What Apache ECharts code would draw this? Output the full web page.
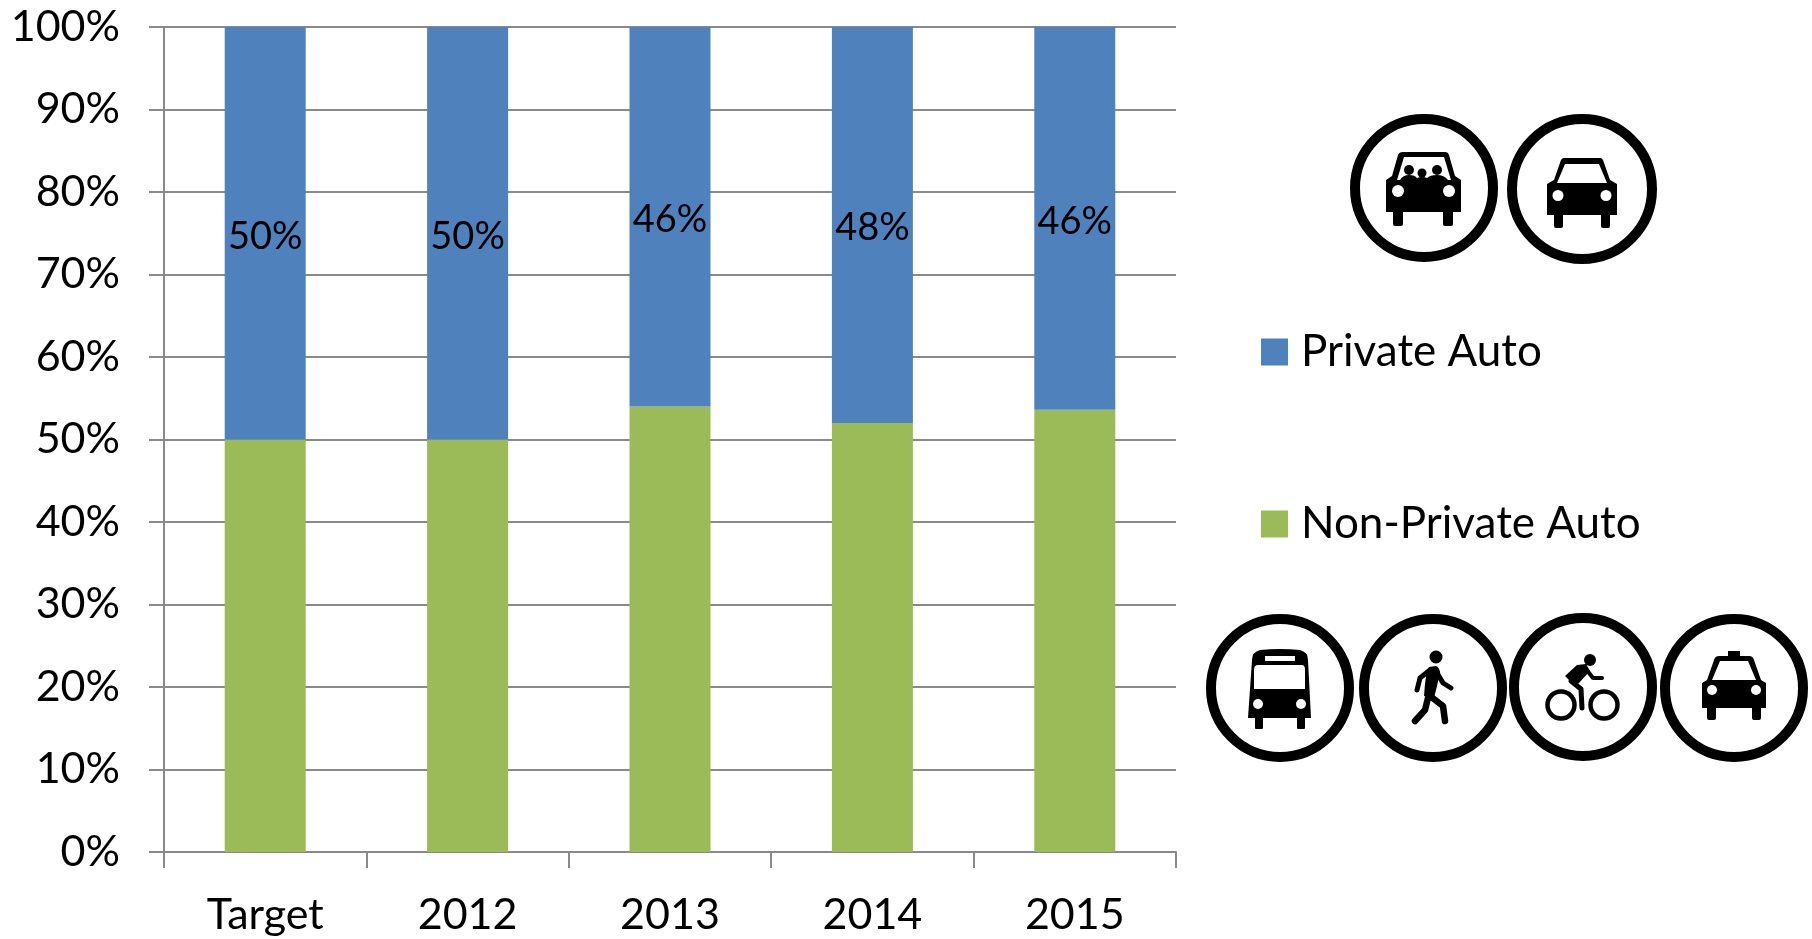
<!DOCTYPE html>
<html>
<head>
<meta charset="utf-8">
<title>Mode split</title>
<style>
	html, body { margin: 0; padding: 0; background: #fff; }
	#main { width: 1812px; height: 939px; }
</style>
<script src="https://cdn.jsdelivr.net/npm/echarts@6/dist/echarts.min.js"></script>
</head>
<body>
<div id="main"></div>
<script>
var categories = ['Target', '2012', '2013', '2014', '2015'];
var privateAuto = [50, 50, 46, 48, 46.4];
var nonPrivateAuto = [50, 50, 54, 52, 53.6];
var yTicks = [0, 10, 20, 30, 40, 50, 60, 70, 80, 90, 100];

var fontName = 'Lato, Carlito, sans-serif';
var axisGrey = '#8a8a8a';
var blue = '#4f81bd';
var green = '#9bbb59';

/*********** icon helpers ***************/
// graphic has no plain path type, so each outline gets registered as a shape
var shapeCount = 0;
function pathShape(d) {
	var name = 'iconPath' + (shapeCount++);
	echarts.graphic.registerShape(name, echarts.graphic.extendPath(d, {}));
	return name;
}
function fillPath(d, color) {
	return { type: pathShape(d), style: { fill: color || '#000' } };
}
function line(d, w) {
	return { type: pathShape(d), style: { fill: 'none', stroke: '#000', lineWidth: w, lineCap: 'round', lineJoin: 'round' } };
}
function dot(x, y, r, color) {
	return { type: 'circle', shape: { cx: x, cy: y, r: r }, style: { fill: color || '#000' } };
}
function ring(x, y, r, w) {
	return { type: 'circle', shape: { cx: x, cy: y, r: r }, style: { fill: 'none', stroke: '#000', lineWidth: w } };
}
// every icon is a black ring with a pictogram drawn around 0,0
function icon(cx, cy, r, parts) {
	return {
		type: 'group',
		x: cx,
		y: cy,
		children: [ring(0, 0, r, 10)].concat(parts)
	};
}

var familyCar = [
	fillPath('M-21,-36 L21,-36 Q24,-36 25,-33 L31,-12 L37,-8 L37,24 L29,24 L29,36 Q29,38 27,38 L21,38 Q19,38 19,36 L19,24 L-21,24 L-21,36 Q-21,38 -23,38 L-29,38 Q-31,38 -31,36 L-31,24 L-38,24 L-38,-8 L-32,-12 L-26,-33 Q-25,-36 -21,-36 Z'),
	fillPath('M-20,-31 L20,-31 L27,-8 L-27,-8 Z', '#fff'),
	dot(-15, -18, 5), dot(-2, -15, 4.5), dot(13, -18, 5),
	fillPath('M-24,-8 Q-21,-13 -15,-13 Q-9,-13 -7,-10 Q-5,-11 -2,-11 Q1,-11 3,-10 Q6,-13 13,-13 Q20,-13 24,-8 Z'),
	dot(-26, 3, 6, '#fff'), dot(25, 3, 6, '#fff')
];

var car = [
	fillPath('M-18,-31 L18,-31 Q20,-31 21,-29 L28,-9 L35,-5 L35,26 L28,26 L28,37 Q28,39 26,39 L21,39 Q19,39 19,37 L19,26 L-19,26 L-19,37 Q-19,39 -21,39 L-26,39 Q-28,39 -28,37 L-28,26 L-35,26 L-35,-5 L-28,-9 L-21,-29 Q-20,-31 -18,-31 Z'),
	fillPath('M-17,-25 L17,-25 L25,-6 L-25,-6 Z', '#fff'),
	dot(-24, 6.5, 5.5, '#fff'), dot(24, 6.5, 5.5, '#fff')
];

var bus = [
	fillPath('M-20,-38 Q0,-40 20,-38 Q28,-36 28,-28 L31,30 L25,30 L25,40 Q25,41 24,41 L18,41 Q17,41 17,40 L17,30 L-17,30 L-17,40 Q-17,41 -18,41 L-24,41 Q-25,41 -25,40 L-25,30 L-32,30 L-28,-28 Q-28,-36 -20,-38 Z'),
	fillPath('M-22,-23 L22,-23 Q25,-23 25,-18 L25,1 L-26,1 L-26,-18 Q-26,-23 -22,-23 Z', '#fff'),
	fillPath('M-15,-32 L15,-32 L15,-27 L-15,-27 Z', '#fff'),
	dot(-22, 16, 5, '#fff'), dot(21, 16, 5, '#fff')
];

var walker = [
	dot(3, -31, 6.5),
	fillPath('M-4,-21 L3,-22 Q6,-21 7,-16 L4,-2 L1,10 L-9,8 L-8,-4 L-6,-18 Z'),
	line('M-3,-18 L-13,-10 L-16,2', 5),
	line('M3,-17 L10,-5 L18,0', 5),
	line('M-4,6 L-8,22 L-18,33', 6.5),
	line('M-3,8 L10,18 L12,33', 6.5)
];

var cyclist = [
	dot(7, -27, 6),
	ring(-22, 18, 13.5, 4.5), ring(21, 18, 13.5, 4.5),
	fillPath('M-18,-11 L-6,-22 L3,-23 L7,-16 L-4,-4 L-8,-1 Z'),
	line('M3,-18 L10,-9 L19,-9', 4),
	line('M-12,-6 L-2,2 L-1,21', 5)
];

var taxi = [
	fillPath('M-6,-37 L6,-37 L6,-32 L15,-32 Q19,-32 20,-28 L27,-8 L32,-5 L32,20 L27,20 L27,30 Q27,32 25,32 L20,32 Q18,32 18,30 L18,20 L-18,20 L-18,30 Q-18,32 -20,32 L-25,32 Q-27,32 -27,30 L-27,20 L-32,20 L-32,-5 L-27,-8 L-20,-28 Q-19,-32 -15,-32 L-6,-32 Z'),
	fillPath('M-14,-27 L14,-27 L22,-8 L-22,-8 Z', '#fff'),
	dot(-22, 2, 5, '#fff'), dot(22, 2, 5, '#fff')
];

/*********** chart ***************/
var myChart = echarts.init(document.getElementById('main'));

var option = {
	animation: false,
	backgroundColor: '#fff',
	textStyle: { fontFamily: fontName, color: '#000' },
	grid: { left: 164, top: 27, width: 1012, height: 825, containLabel: false },
	legend: {
		orient: 'vertical',
		left: 1261,
		top: 330,
		padding: 0,
		icon: 'rect',
		itemWidth: 27,
		itemHeight: 27,
		itemGap: 128,
		data: ['Private Auto', 'Non-Private Auto'],
		textStyle: { fontFamily: fontName, fontSize: 44, color: '#000', padding: [0, 0, 0, 8] }
	},
	xAxis: {
		type: 'category',
		data: categories,
		axisLine: { lineStyle: { color: axisGrey, width: 2 } },
		axisTick: { show: true, length: 16, alignWithLabel: false, lineStyle: { color: axisGrey, width: 2 } },
		axisLabel: { color: '#000', fontFamily: fontName, fontSize: 43, margin: 42 }
	},
	yAxis: {
		type: 'value',
		min: 0,
		max: 100,
		interval: 10,
		axisLine: { show: true, lineStyle: { color: axisGrey, width: 2 } },
		axisTick: { show: true, length: 15, lineStyle: { color: axisGrey, width: 2 } },
		axisLabel: {
			color: '#000',
			fontFamily: fontName,
			fontSize: 43,
			margin: 44,
			formatter: function (v) { return yTicks.indexOf(v) >= 0 ? v + '%' : ''; }
		},
		splitLine: { show: true, lineStyle: { color: axisGrey, width: 2 } }
	},
	series: [
		{
			name: 'Non-Private Auto',
			type: 'bar',
			stack: 'mode',
			barWidth: 81,
			itemStyle: { color: green },
			data: nonPrivateAuto
		},
		{
			name: 'Private Auto',
			type: 'bar',
			stack: 'mode',
			barWidth: 81,
			itemStyle: { color: blue },
			label: {
				show: true,
				position: 'inside',
				offset: [0, 3],
				color: '#000',
				fontFamily: fontName,
				fontSize: 38,
				formatter: function (p) { return Math.round(p.value) + '%'; }
			},
			data: privateAuto
		}
	],
	graphic: [
		icon(1424, 188, 69, familyCar),
		icon(1582, 189, 70, car),
		icon(1280, 688, 69, bus),
		icon(1433, 688, 69, walker),
		icon(1583, 687, 69, cyclist),
		icon(1734, 688, 69, taxi)
	]
};

myChart.setOption(option);
</script>
</body>
</html>
